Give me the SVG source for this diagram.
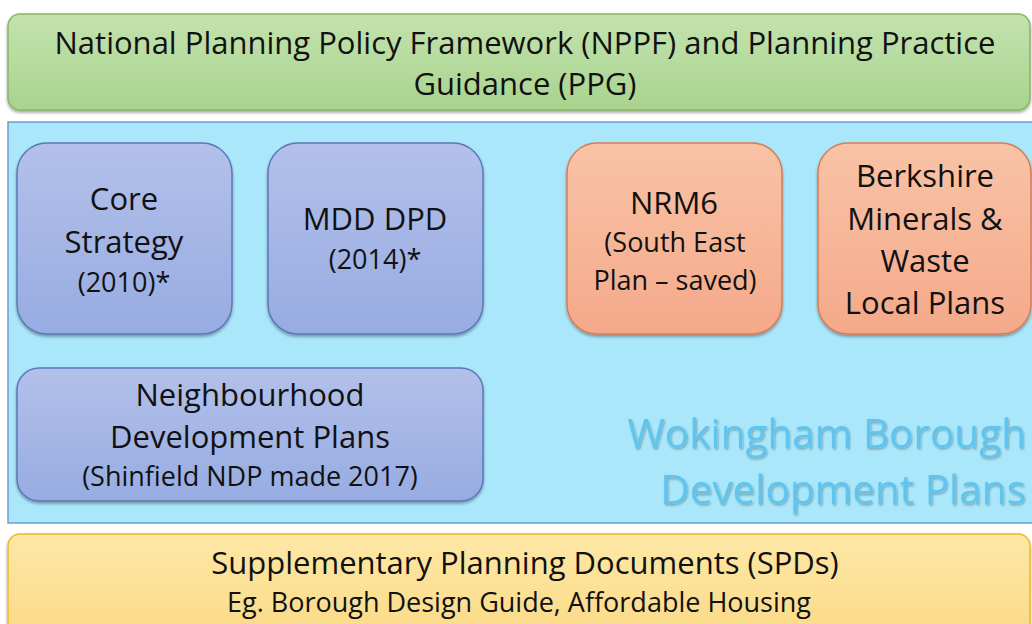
<svg xmlns="http://www.w3.org/2000/svg" width="1032" height="624" viewBox="0 0 1032 624">
  <defs>
    <linearGradient id="gGreen" x1="0" y1="0" x2="0" y2="1">
      <stop offset="0" stop-color="#c3e3ae"/>
      <stop offset="1" stop-color="#a9d38e"/>
    </linearGradient>
    <linearGradient id="gBlue" x1="0" y1="0" x2="0" y2="1">
      <stop offset="0" stop-color="#b3c0ea"/>
      <stop offset="1" stop-color="#97ace2"/>
    </linearGradient>
    <linearGradient id="gOrange" x1="0" y1="0" x2="0" y2="1">
      <stop offset="0" stop-color="#f9c3a6"/>
      <stop offset="1" stop-color="#f4a98a"/>
    </linearGradient>
    <linearGradient id="gYellow" x1="0" y1="0" x2="0" y2="1">
      <stop offset="0" stop-color="#fde8a6"/>
      <stop offset="1" stop-color="#fbd985"/>
    </linearGradient>
    <filter id="shadow" x="-5%" y="-5%" width="110%" height="115%">
      <feDropShadow dx="0" dy="2" stdDeviation="1.5" flood-color="#000" flood-opacity="0.35"/>
    </filter>
    <filter id="tshadow" x="-5%" y="-10%" width="110%" height="130%">
      <feDropShadow dx="1" dy="1.5" stdDeviation="1" flood-color="#000" flood-opacity="0.3"/>
    </filter>
  </defs>
  <style>
    text { font-family: "Open Sans", Lato, "Liberation Sans", sans-serif; fill: #111; text-anchor: middle; }
    .big { font-size: 31px; }
    .mid { font-size: 27px; }
    .green { fill: url(#gGreen); stroke: #86b566; stroke-width: 1.5; }
    .blue { fill: url(#gBlue); stroke: #5c77b8; stroke-width: 1.5; }
    .orange { fill: url(#gOrange); stroke: #d97c55; stroke-width: 1.5; }
    .yellow { fill: url(#gYellow); stroke: #f0b62a; stroke-width: 1.5; }
    .wb { font-size: 40.5px; fill: #5ec5ef; text-anchor: end; }
  </style>

  <rect width="1032" height="624" fill="#ffffff"/>

  <!-- National framework band -->
  <g id="nppf">
    <rect class="green" x="8" y="14" width="1022" height="96" rx="12" filter="url(#shadow)"/>
    <text class="big" x="525" y="54">National Planning Policy Framework (NPPF) and Planning Practice</text>
    <text class="big" x="525" y="95">Guidance (PPG)</text>
  </g>

  <!-- Development plans container -->
  <g id="dev-plans">
    <rect x="8" y="122" width="1030" height="401" fill="#aae7fb" stroke="#6f9fcc" stroke-width="1.5"/>
    <text class="wb" x="1026" y="448" filter="url(#tshadow)">Wokingham Borough</text>
    <text class="wb" x="1026" y="504" filter="url(#tshadow)">Development Plans</text>
  </g>

  <g id="core-strategy">
    <rect class="blue" x="17" y="143" width="215" height="191" rx="30" filter="url(#shadow)"/>
    <text class="big" x="124" y="210">Core</text>
    <text class="big" x="124" y="253">Strategy</text>
    <text class="mid" x="124" y="292">(2010)*</text>
  </g>

  <g id="mdd-dpd">
    <rect class="blue" x="268" y="143" width="215" height="191" rx="30" filter="url(#shadow)"/>
    <text class="big" x="375" y="230">MDD DPD</text>
    <text class="mid" x="375" y="269">(2014)*</text>
  </g>

  <g id="nrm6">
    <rect class="orange" x="567" y="143" width="215" height="191" rx="30" filter="url(#shadow)"/>
    <text class="big" x="674" y="214">NRM6</text>
    <text class="mid" x="675" y="252" font-size="26">(South East</text>
    <text class="mid" x="675" y="290" font-size="26">Plan – saved)</text>
  </g>

  <g id="berkshire">
    <rect class="orange" x="818" y="143" width="213" height="191" rx="30" filter="url(#shadow)"/>
    <text class="big" x="925" y="187">Berkshire</text>
    <text class="big" x="925" y="230">Minerals &amp;</text>
    <text class="big" x="925" y="272">Waste</text>
    <text class="big" x="925" y="314">Local Plans</text>
  </g>

  <g id="neighbourhood">
    <rect class="blue" x="17" y="368" width="466" height="133" rx="22" filter="url(#shadow)"/>
    <text class="big" x="250" y="406">Neighbourhood</text>
    <text class="big" x="250" y="448">Development Plans</text>
    <text class="mid" x="250" y="486">(Shinfield NDP made 2017)</text>
  </g>

  <!-- Supplementary documents band -->
  <g id="spd">
    <rect class="yellow" x="8" y="534" width="1022" height="110" rx="12" filter="url(#shadow)"/>
    <text class="big" x="525" y="574">Supplementary Planning Documents (SPDs)</text>
    <text class="mid" x="519" y="612" font-size="28">Eg. Borough Design Guide, Affordable Housing</text>
  </g>

  <g id="connectors"></g>
</svg>
